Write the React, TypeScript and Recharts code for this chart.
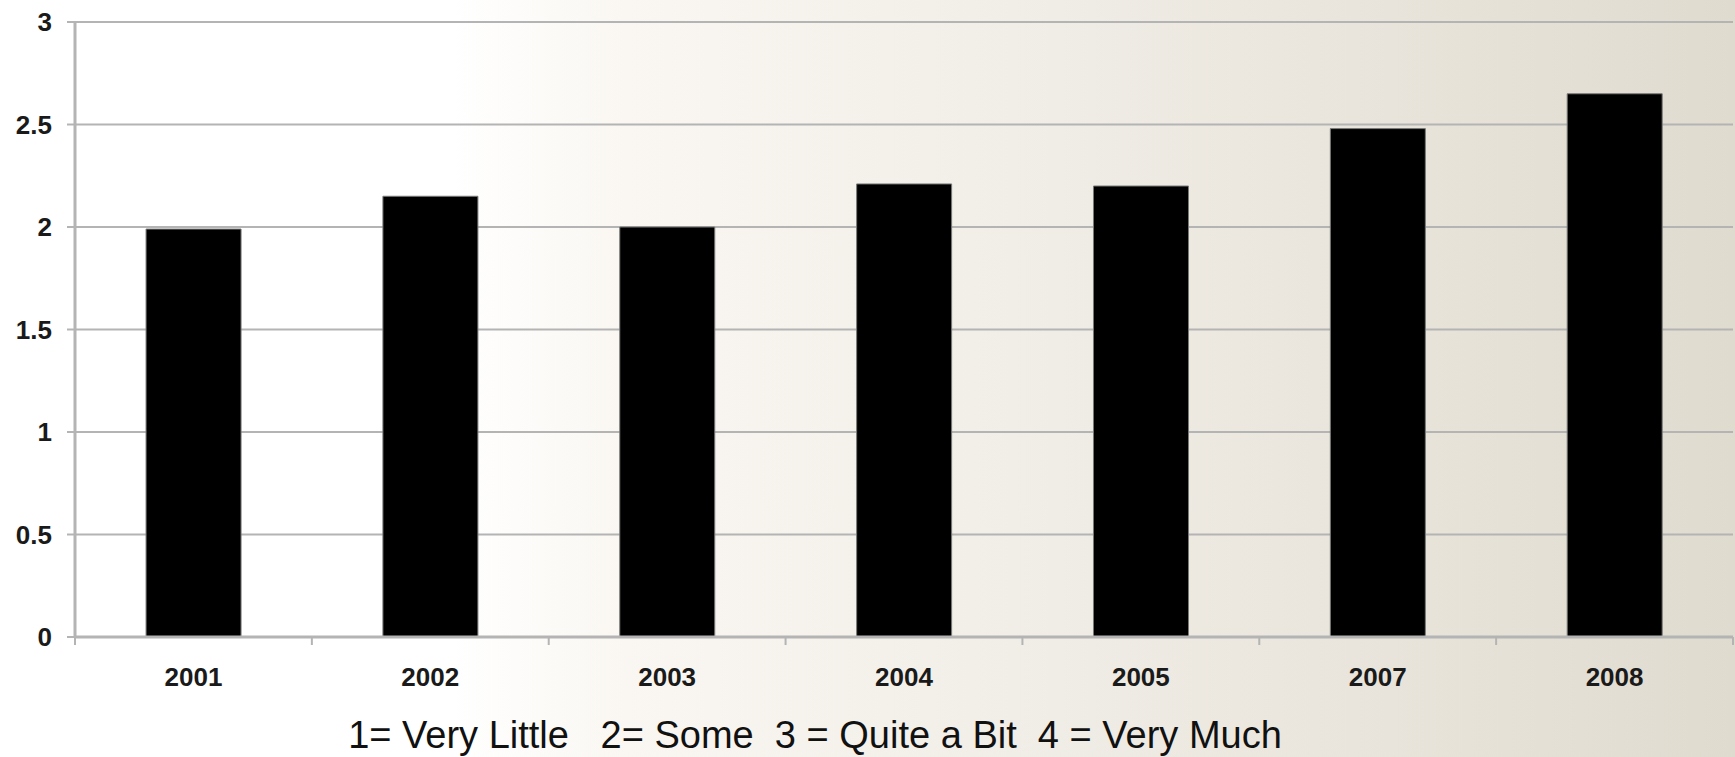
import { BarChart, Bar, XAxis, YAxis, CartesianGrid } from 'recharts'

const years = ['2001', '2002', '2003', '2004', '2005', '2007', '2008']
const scores = [1.99, 2.15, 2.0, 2.21, 2.2, 2.48, 2.65]
const yTicks = [0, 0.5, 1, 1.5, 2, 2.5, 3]
const scaleNote = '1= Very Little   2= Some  3 = Quite a Bit  4 = Very Much'

const data = years.map((year, i) => ({ year, score: scores[i] }))

const W = 1735
const H = 757
const Y_AXIS_W = 75
const RIGHT = 2
const BAND = (W - Y_AXIS_W - RIGHT) / years.length
const TICK_SIZE = 8
const TICK_MARGIN = 23

const GRID = '#b4b4b4'
const FONT = 'Liberation Sans, Arial, sans-serif'
const tickFont = { fill: '#1a1a1a', fontSize: 26, fontWeight: 700, fontFamily: FONT }

// category ticks sit between the bars, like the original spreadsheet chart
function YearTick(props: any) {
  const { x, y, payload, index } = props
  const axisY = y - TICK_SIZE - TICK_MARGIN
  const left = x - BAND / 2
  return (
    <g>
      <line x1={left} x2={left} y1={axisY} y2={axisY + TICK_SIZE} stroke={GRID} strokeWidth={2} />
      {index === years.length - 1 && (
        <line x1={x + BAND / 2} x2={x + BAND / 2} y1={axisY} y2={axisY + TICK_SIZE} stroke={GRID} strokeWidth={2} />
      )}
      <text x={x} y={y} dy="0.71em" textAnchor="middle" {...tickFont}>
        {payload.value}
      </text>
    </g>
  )
}

export default function App() {
  return (
    <div
      style={{
        position: 'fixed',
        left: 0,
        top: 0,
        width: W,
        height: H,
        overflow: 'hidden',
        background:
          'linear-gradient(90deg, #ffffff 0%, #ffffff 26%, #faf7f2 36%, #f2efe9 56%, #e9e5dc 78%, #e0dbcf 100%)',
      }}
    >
      <BarChart
        width={W}
        height={H}
        data={data}
        margin={{ top: 22, right: RIGHT, left: 0, bottom: 84 }}
        barCategoryGap="30%"
      >
        <CartesianGrid vertical={false} stroke={GRID} strokeWidth={2} />
        <XAxis
          dataKey="year"
          height={36}
          axisLine={{ stroke: GRID, strokeWidth: 3 }}
          tickLine={false}
          tickSize={TICK_SIZE}
          tickMargin={TICK_MARGIN}
          tick={<YearTick />}
          interval={0}
        />
        <YAxis
          width={Y_AXIS_W}
          domain={[0, 3]}
          ticks={yTicks}
          axisLine={{ stroke: GRID, strokeWidth: 3 }}
          tickLine={{ stroke: GRID, strokeWidth: 2 }}
          tickSize={TICK_SIZE}
          tickMargin={15}
          tick={tickFont}
        />
        <Bar dataKey="score" fill="#000000" stroke="#7a7a7a" strokeWidth={1} isAnimationActive={false} />
      </BarChart>
      <div
        style={{
          position: 'absolute',
          left: 0,
          width: 1630,
          top: 716,
          textAlign: 'center',
          whiteSpace: 'pre',
          fontFamily: FONT,
          fontSize: 38,
          lineHeight: 1,
          color: '#111',
        }}
      >
        {scaleNote}
      </div>
    </div>
  )
}
